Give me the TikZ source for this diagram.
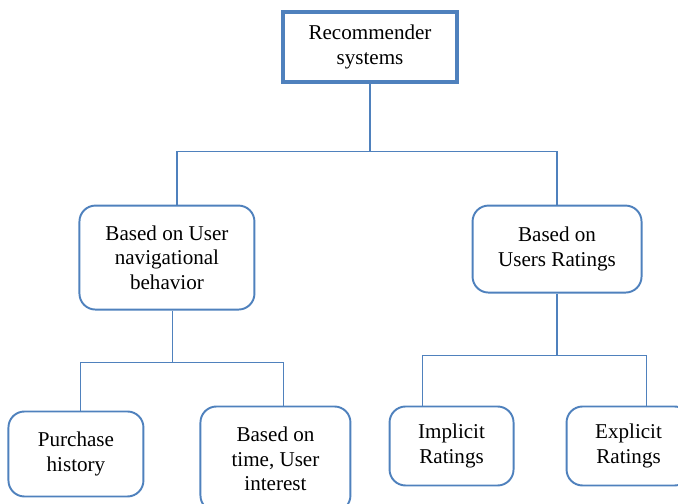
\documentclass[tikz,border=0pt]{standalone}
\usepackage{fontspec}
\setmainfont{Liberation Serif}
\usepackage{xcolor}
\usepackage{tikz}
\usetikzlibrary{positioning}

\definecolor{boxblue}{RGB}{79,129,189}

\begin{document}
\begin{tikzpicture}[
        every node/.style={align=center, inner sep=2pt, font=\fontsize{12}{13.8}\selectfont},
        rootbox/.style={draw=boxblue, line width=1.8pt},
        catbox/.style={draw=boxblue, line width=1.1pt, rounded corners=0.32cm},
        link/.style={draw=boxblue, line width=1pt}]
        \useasboundingbox (0,0) rectangle (13.56,-10.06);
        \node[rootbox, minimum width=3.48cm, minimum height=1.4cm] (rec) at (7.4,-0.94) {Recommender\\systems};
        \node[catbox, minimum width=3.5cm, minimum height=2.08cm, below left=2.42cm and 0.52cm of rec] (nav) {Based on User\\navigational\\behavior};
        \node[catbox, minimum width=3.38cm, minimum height=1.74cm, below right=2.42cm and 0.26cm of rec] (rating) {Based on\\Users Ratings};
        \node[catbox, minimum width=2.7cm, minimum height=1.7cm, below=2.0cm of nav, xshift=-1.82cm] (purchase) {Purchase\\history};
        \node[catbox, minimum width=3cm, minimum height=2.1cm, below=1.9cm of nav, xshift=2.17cm] (time) {Based on\\time, User\\interest};
        \node[catbox, minimum width=2.48cm, minimum height=1.58cm, below=2.24cm of rating, xshift=-2.11cm] (implicit) {Implicit\\Ratings};
        \node[catbox, minimum width=2.48cm, minimum height=1.58cm, below=2.24cm of rating, xshift=1.43cm] (explicit) {Explicit\\Ratings};
        % top level
        \draw[link] (rec.south) -- +(0,-1.36) coordinate (recbar);
        \draw[link] ([xshift=0.2cm]nav.north) |- (recbar) -| (rating.north);
        % navigational behavior
        \draw[link] ([xshift=0.11cm]nav.south) -- +(0,-1.04) coordinate (navbar);
        \draw[link] ([xshift=0.09cm]purchase.north) |- (navbar) -| ([xshift=0.16cm]time.north);
        % ratings
        \draw[link] (rating.south) -- +(0,-1.24) coordinate (ratebar);
        \draw[link] ([xshift=-0.58cm]implicit.north) |- (ratebar) -| ([xshift=0.36cm]explicit.north);
    \end{tikzpicture}
\end{document}
